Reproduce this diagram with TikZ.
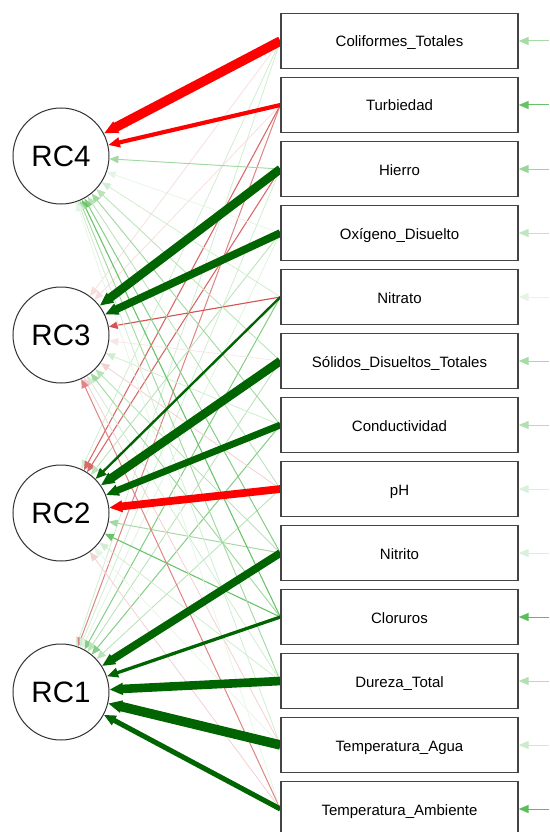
\documentclass[tikz,border=0pt]{standalone}
\usepackage{fontspec}
\setmainfont{Liberation Sans}
\usetikzlibrary{arrows.meta}
\pgfdeclarelayer{bg}
\pgfsetlayers{bg,main}
\definecolor{posS}{HTML}{006400}
\definecolor{negS}{HTML}{FF0000}
\definecolor{posW}{HTML}{009900}
\definecolor{negW}{HTML}{BF0000}
\definecolor{boxline}{HTML}{444444}
\definecolor{circline}{HTML}{333333}
\tikzset{
  varbox/.style={draw=boxline, line width=1.3pt, fill=white, minimum width=237pt,
    minimum height=55pt, inner sep=0pt, text height=13.5pt, text depth=1.5pt,
    font=\fontsize{15}{18}\selectfont},
  latnode/.style={circle, draw=circline, line width=1pt, fill=white, minimum size=96pt,
    inner sep=0pt, font=\fontsize{29.5}{32}\selectfont},
}
% #1 pass (1 = weak, 0 = strong), #2 variable, #3 factor, #4 loading
\newcommand\loadedge[4]{%
  \pgfmathsetmacro\av{abs(#4)}%
  \pgfmathtruncatemacro\isweak{\av<0.45}%
  \pgfmathtruncatemacro\ispos{#4>0}%
  \ifnum\isweak=#1
    \ifnum\isweak=1
      \pgfmathtruncatemacro\pct{min(100,(\av/0.45)^1.4*85)}%
      \pgfmathsetmacro\lw{0.6+\av*1.4}%
      \def\al{9}\def\aw{7.5}%
      \ifnum\ispos=1 \colorlet{ecol}{posW!\pct!white}\else\colorlet{ecol}{negW!\pct!white}\fi
    \else
      \pgfmathsetmacro\lw{1.5+(\av-0.45)/0.45*8}%
      \pgfmathsetmacro\al{10+\lw*0.4}%
      \pgfmathsetmacro\aw{8+\lw*0.4}%
      \ifnum\ispos=1 \colorlet{ecol}{posS}\else\colorlet{ecol}{negS}\fi
    \fi
    \draw[draw=ecol, line width=\lw pt, -{Triangle[length=\al pt,width=\aw pt]}] (v#2.west) -- (rc#3);
  \fi
}
\def\edgelist{%
1/1/0.15, 1/2/0.15, 1/3/-0.12, 1/4/-0.90,
2/1/-0.30, 2/2/-0.35, 2/3/-0.12, 2/4/-0.60,
3/1/0.15, 3/2/-0.35, 3/3/0.85, 3/4/0.25,
4/1/0.12, 4/2/0.20, 4/3/0.80, 4/4/0.10,
5/1/0.30, 5/2/0.50, 5/3/-0.38, 5/4/0.15,
6/1/0.20, 6/2/0.85, 6/3/-0.10, 6/4/0.20,
7/1/0.30, 7/2/0.75, 7/3/0.15, 7/4/0.25,
8/1/0.20, 8/2/-0.80, 8/3/-0.15, 8/4/0.20,
9/1/0.80, 9/2/0.25, 9/3/0.20, 9/4/0.30,
10/1/0.55, 10/2/0.35, 10/3/0.25, 10/4/0.35,
11/1/0.85, 11/2/0.15, 11/3/0.15, 11/4/0.25,
12/1/0.90, 12/2/0.10, 12/3/-0.15, 12/4/0.15,
13/1/0.65, 13/2/-0.15, 13/3/-0.30, 13/4/0.10}
\begin{document}
\begin{tikzpicture}[x=1pt,y=-1pt]
\useasboundingbox (0,0) rectangle (549,832);
\foreach \i/\y/\t in {1/41/Coliformes\_Totales, 2/105/Turbiedad, 3/169/Hierro,
  4/233/Oxígeno\_Disuelto, 5/297/Nitrato, 6/361/Sólidos\_Disueltos\_Totales,
  7/425/Conductividad, 8/489/pH, 9/553/Nitrito, 10/617/Cloruros,
  11/681/Dureza\_Total, 12/745/Temperatura\_Agua, 13/809/Temperatura\_Ambiente}
  \node[varbox] (v\i) at (399.5,\y) {\t};
\node[latnode] (rc4) at (61,156) {RC4};
\node[latnode] (rc3) at (61,335) {RC3};
\node[latnode] (rc2) at (61,513) {RC2};
\node[latnode] (rc1) at (61,692) {RC1};
\begin{pgfonlayer}{bg}
\foreach \a/\b/\c in \edgelist {\loadedge{1}{\a}{\b}{\c}}
\foreach \a/\b/\c in \edgelist {\loadedge{0}{\a}{\b}{\c}}
\end{pgfonlayer}
\foreach \i/\y/\p in {1/41/35, 2/105/60, 3/169/40, 4/233/25, 5/297/10, 6/361/35,
  7/425/30, 8/489/15, 9/553/15, 10/617/65, 11/681/30, 12/745/20, 13/809/65} {
  \coordinate (r\i) at (549,\y);
  \draw[draw=posW!\p!white, line width=1pt, -{Triangle[length=10pt,width=8pt]}] (r\i) -- (v\i.east);
}
\end{tikzpicture}
\end{document}
